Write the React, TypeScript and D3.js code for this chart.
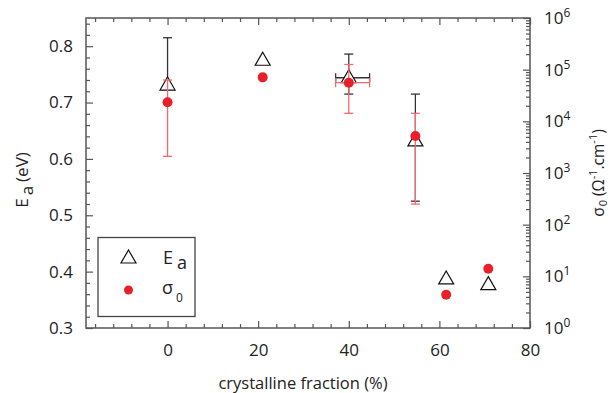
import React, { useRef, useEffect } from 'react';
import * as d3 from 'd3';

// crystalline fraction (%)
const fractions = [0, 21, 40, 54.7, 61.5, 70.8];
// activation energy Ea (eV)
const eaValues = [0.731, 0.775, 0.744, 0.632, 0.387, 0.377];
const eaErrLow = [0, 0, 0.029, 0.107, 0, 0];
const eaErrHigh = [0.084, 0, 0.042, 0.083, 0, 0];
// prefactor sigma0 (ohm^-1 cm^-1)
const sigmaValues = [2.34e4, 7.1e4, 5.6e4, 5.2e3, 4.4, 14];
const sigmaErrLowEnd = [2.1e3, 0, 1.43e4, 250, 0, 0];
const sigmaErrHighEnd = [6.3e4, 0, 1.26e5, 1.43e4, 0, 0];
// horizontal error on the 40% sample
const xErrLow = [0, 0, 2.9, 0, 0, 0];
const xErrHigh = [0, 0, 4.6, 0, 0, 0];

const xTicks = [0, 20, 40, 60, 80];
const eaTicks = [0.3, 0.4, 0.5, 0.6, 0.7, 0.8];
const sigmaExponents = [0, 1, 2, 3, 4, 5, 6];

const RED = '#e8202a';
const RED_BAR = '#f26a6a';
const FRAME = '#555';

const App: React.FC = () => {
  const svgRef = useRef<SVGSVGElement>(null);
  const width = 611;
  const height = 393;
  const font = '"Open Sans", sans-serif';

  useEffect(() => {
    if (!svgRef.current) return;
    const svg = d3.select(svgRef.current);
    svg.selectAll('*').remove();

    const x = d3.scaleLinear().domain([-18, 80]).range([86, 530]);
    const yL = d3.scaleLinear().domain([0.3, 0.85]).range([328, 18]);
    const yR = d3.scaleLog().domain([1, 1e6]).range([328, 18]);

    const styleAxis = (g: d3.Selection<SVGGElement, unknown, null, undefined>) => {
      g.select('.domain').remove();
      g.selectAll('line').attr('stroke', FRAME).attr('stroke-width', 1.2);
      g.selectAll('text').attr('font-family', font).attr('font-size', 17).attr('fill', '#222');
    };

    const minorX = d3.range(-16, 80, 4).filter(v => v % 20 !== 0);
    const minorEa = d3.range(0.32, 0.85, 0.02).filter(v => Math.abs(v * 10 - Math.round(v * 10)) > 0.01);
    const minorLog: number[] = [];
    for (let e = 0; e < 6; e++) for (let m = 2; m <= 9; m++) minorLog.push(m * Math.pow(10, e));

    // bottom axis
    svg.append('g').attr('transform', 'translate(0,328)')
      .call(d3.axisBottom(x).tickValues(xTicks).tickSize(-7).tickPadding(16).tickFormat(d3.format('d')))
      .call(styleAxis);
    svg.append('g').attr('transform', 'translate(0,328)')
      .call(d3.axisBottom(x).tickValues(minorX).tickSize(-4).tickFormat(() => ''))
      .call(styleAxis);
    // top axis
    svg.append('g').attr('transform', 'translate(0,18)')
      .call(d3.axisTop(x).tickValues(xTicks).tickSize(-7).tickFormat(() => ''))
      .call(styleAxis);
    svg.append('g').attr('transform', 'translate(0,18)')
      .call(d3.axisTop(x).tickValues(minorX).tickSize(-4).tickFormat(() => ''))
      .call(styleAxis);
    // left axis
    svg.append('g').attr('transform', 'translate(86,0)')
      .call(d3.axisLeft(yL).tickValues(eaTicks).tickSize(-7).tickPadding(13).tickFormat(d3.format('.1f')))
      .call(styleAxis);
    svg.append('g').attr('transform', 'translate(86,0)')
      .call(d3.axisLeft(yL).tickValues(minorEa).tickSize(-4).tickFormat(() => ''))
      .call(styleAxis);
    // right axis (log)
    svg.append('g').attr('transform', 'translate(530,0)')
      .call(d3.axisRight(yR).tickValues(sigmaExponents.map(e => Math.pow(10, e))).tickSize(-7).tickFormat(() => ''))
      .call(styleAxis);
    svg.append('g').attr('transform', 'translate(530,0)')
      .call(d3.axisRight(yR).tickValues(minorLog).tickSize(-4).tickFormat(() => ''))
      .call(styleAxis);

    sigmaExponents.forEach(e => {
      const t = svg.append('text')
        .attr('x', 544)
        .attr('y', yR(Math.pow(10, e)) + 6)
        .attr('font-family', font)
        .attr('font-size', 17)
        .attr('fill', '#222');
      t.append('tspan').text('10');
      t.append('tspan').attr('font-size', 12).attr('dy', -7).text(String(e));
    });

    // frame
    svg.append('rect')
      .attr('x', 86).attr('y', 18).attr('width', 444).attr('height', 310)
      .attr('fill', 'none').attr('stroke', FRAME).attr('stroke-width', 1.5);

    const cap = 4.5;
    const vBar = (g: d3.Selection<SVGGElement, unknown, null, undefined>, cx: number, y1: number, y2: number, color: string) => {
      g.append('line').attr('x1', cx).attr('x2', cx).attr('y1', y1).attr('y2', y2).attr('stroke', color).attr('stroke-width', 1.3);
      [y1, y2].forEach(yy => g.append('line').attr('x1', cx - cap).attr('x2', cx + cap).attr('y1', yy).attr('y2', yy).attr('stroke', color).attr('stroke-width', 1.3));
    };
    const hBar = (g: d3.Selection<SVGGElement, unknown, null, undefined>, cy: number, x1: number, x2: number, color: string) => {
      g.append('line').attr('x1', x1).attr('x2', x2).attr('y1', cy).attr('y2', cy).attr('stroke', color).attr('stroke-width', 1.3);
      [x1, x2].forEach(xx => g.append('line').attr('x1', xx).attr('x2', xx).attr('y1', cy - cap).attr('y2', cy + cap).attr('stroke', color).attr('stroke-width', 1.3));
    };

    const triPath = 'M0,-8L7.5,5L-7.5,5Z';

    // Ea error bars
    const gEaErr = svg.append('g');
    fractions.forEach((f, i) => {
      if (eaErrLow[i] || eaErrHigh[i]) {
        vBar(gEaErr, x(f), yL(eaValues[i] + eaErrHigh[i]), yL(eaValues[i] - eaErrLow[i]), '#333');
      }
      if (xErrLow[i] || xErrHigh[i]) {
        hBar(gEaErr, yL(eaValues[i]), x(f - xErrLow[i]), x(f + xErrHigh[i]), '#333');
      }
    });

    // Ea triangles
    svg.append('g').selectAll('path')
      .data(fractions)
      .enter()
      .append('path')
      .attr('d', triPath)
      .attr('transform', (f, i) => `translate(${x(f)},${yL(eaValues[i])})`)
      .attr('fill', '#fff')
      .attr('stroke', '#111')
      .attr('stroke-width', 1.2);

    // sigma error bars
    const gSigErr = svg.append('g');
    fractions.forEach((f, i) => {
      if (sigmaErrLowEnd[i] && sigmaErrHighEnd[i]) {
        vBar(gSigErr, x(f), yR(sigmaErrHighEnd[i]), yR(sigmaErrLowEnd[i]), RED_BAR);
      }
      if (xErrLow[i] || xErrHigh[i]) {
        hBar(gSigErr, yR(sigmaValues[i]), x(f - xErrLow[i]), x(f + xErrHigh[i]), RED_BAR);
      }
    });

    // sigma dots
    svg.append('g').selectAll('circle')
      .data(fractions)
      .enter()
      .append('circle')
      .attr('cx', f => x(f))
      .attr('cy', (f, i) => yR(sigmaValues[i]))
      .attr('r', 5)
      .attr('fill', RED);

    // legend
    const lg = svg.append('g');
    lg.append('rect').attr('x', 98).attr('y', 237.5).attr('width', 97).attr('height', 79)
      .attr('fill', '#fff').attr('stroke', '#444').attr('stroke-width', 1.3);
    lg.append('path').attr('d', triPath).attr('transform', 'translate(128.5,258)')
      .attr('fill', '#fff').attr('stroke', '#111').attr('stroke-width', 1.2);
    lg.append('circle').attr('cx', 128.5).attr('cy', 290).attr('r', 4.5).attr('fill', RED);
    const le = lg.append('text').attr('x', 163).attr('y', 264).attr('font-family', font).attr('font-size', 18).attr('fill', '#222');
    le.append('tspan').text('E');
    le.append('tspan').attr('dx', 4).attr('dy', 5).text('a');
    const ls = lg.append('text').attr('x', 162).attr('y', 294).attr('font-family', font).attr('font-size', 18).attr('fill', '#222');
    ls.append('tspan').text('σ');
    ls.append('tspan').attr('font-size', 12).attr('dx', 3).attr('dy', 8).text('0');

    // axis titles
    svg.append('text')
      .attr('x', 303).attr('y', 389)
      .attr('text-anchor', 'middle')
      .attr('font-family', font).attr('font-size', 16.5).attr('fill', '#222')
      .text('crystalline fraction (%)');

    const lt = svg.append('text')
      .attr('transform', 'translate(28,180) rotate(-90)')
      .attr('text-anchor', 'middle')
      .attr('font-family', font).attr('font-size', 17).attr('fill', '#222');
    lt.append('tspan').text('E');
    lt.append('tspan').attr('dx', 3).attr('dy', 5).text('a');
    lt.append('tspan').attr('dx', 4).attr('dy', -5).text('(eV)');

    const rt = svg.append('text')
      .attr('transform', 'translate(604,173) rotate(-90)')
      .attr('text-anchor', 'middle')
      .attr('font-family', font).attr('font-size', 15.5).attr('fill', '#222');
    rt.append('tspan').text('σ');
    rt.append('tspan').attr('font-size', 11).attr('dx', 1).attr('dy', 3).text('0');
    rt.append('tspan').attr('dx', 4).attr('dy', -3).text('(Ω');
    rt.append('tspan').attr('font-size', 11).attr('dy', -7).text('-1');
    rt.append('tspan').attr('dy', 7).text('.cm');
    rt.append('tspan').attr('font-size', 11).attr('dy', -7).text('-1');
    rt.append('tspan').attr('dy', 7).text(')');
  }, []);

  return (
    <div style={{ position: 'absolute', left: 0, top: 0, background: '#fff' }}>
      <svg ref={svgRef} width={width} height={height} />
    </div>
  );
};

export default App;
